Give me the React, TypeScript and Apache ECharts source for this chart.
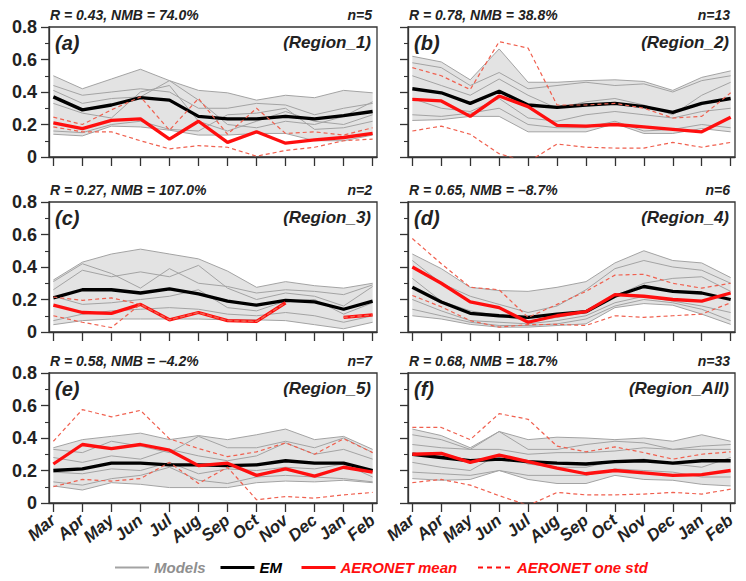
import React, { useEffect, useRef } from "react";
import * as echarts from "echarts";

const months = ["Mar", "Apr", "May", "Jun", "Jul", "Aug", "Sep", "Oct", "Nov", "Dec", "Jan", "Feb"];

// ---- Panel (a) Region_1
const bandHiA = [0.50, 0.42, 0.48, 0.54, 0.47, 0.41, 0.395, 0.35, 0.38, 0.365, 0.41, 0.395];
const bandLoA = [0.14, 0.13, 0.19, 0.185, 0.165, 0.135, 0.135, 0.145, 0.145, 0.10, 0.10, 0.135];
const modelsA = [
  [0.44, 0.38, 0.40, 0.42, 0.40, 0.30, 0.30, 0.33, 0.32, 0.26, 0.30, 0.33],
  [0.41, 0.33, 0.36, 0.37, 0.47, 0.35, 0.20, 0.18, 0.22, 0.20, 0.25, 0.34],
  [0.33, 0.27, 0.24, 0.40, 0.44, 0.22, 0.16, 0.22, 0.28, 0.22, 0.20, 0.26],
  [0.16, 0.15, 0.20, 0.22, 0.17, 0.16, 0.26, 0.27, 0.30, 0.17, 0.18, 0.22],
];
const emA = [0.37, 0.29, 0.32, 0.365, 0.35, 0.25, 0.235, 0.235, 0.25, 0.235, 0.255, 0.28];
const obsA = [0.21, 0.175, 0.225, 0.235, 0.11, 0.22, 0.09, 0.155, 0.085, 0.105, 0.12, 0.145];
const stdHiA = [0.245, 0.2, 0.29, 0.37, 0.165, 0.36, 0.14, 0.30, 0.145, 0.155, 0.135, 0.18];
const stdLoA = [0.185, 0.155, 0.155, 0.10, 0.05, 0.07, 0.06, 0.005, 0.04, 0.06, 0.10, 0.11];

// ---- Panel (b) Region_2
const bandHiB = [0.62, 0.585, 0.475, 0.665, 0.46, 0.46, 0.47, 0.475, 0.465, 0.41, 0.49, 0.53];
const bandLoB = [0.225, 0.23, 0.25, 0.25, 0.155, 0.155, 0.155, 0.205, 0.145, 0.145, 0.175, 0.155];
const modelsB = [
  [0.58, 0.55, 0.44, 0.52, 0.42, 0.44, 0.46, 0.44, 0.45, 0.40, 0.47, 0.50],
  [0.50, 0.44, 0.38, 0.48, 0.38, 0.30, 0.34, 0.36, 0.32, 0.26, 0.38, 0.46],
  [0.36, 0.30, 0.28, 0.36, 0.24, 0.22, 0.26, 0.28, 0.26, 0.24, 0.28, 0.30],
  [0.26, 0.25, 0.27, 0.30, 0.20, 0.18, 0.18, 0.22, 0.16, 0.17, 0.20, 0.18],
];
const emB = [0.42, 0.395, 0.33, 0.405, 0.32, 0.305, 0.32, 0.33, 0.31, 0.275, 0.33, 0.36];
const obsB = [0.355, 0.345, 0.25, 0.375, 0.31, 0.195, 0.19, 0.20, 0.185, 0.17, 0.155, 0.245];
const stdHiB = [0.55, 0.50, 0.415, 0.71, 0.67, 0.32, 0.32, 0.33, 0.30, 0.24, 0.25, 0.395];
const stdLoB = [0.16, 0.19, 0.14, 0.02, -0.03, 0.08, 0.06, 0.055, 0.055, 0.09, 0.06, 0.09];

// ---- Panel (c) Region_3
const bandHiC = [0.32, 0.43, 0.48, 0.51, 0.48, 0.45, 0.375, 0.275, 0.31, 0.285, 0.27, 0.30];
const bandLoC = [0.045, 0.07, 0.08, 0.08, 0.08, 0.08, 0.075, 0.075, 0.07, 0.045, 0.02, 0.06];
const modelsC = [
  [0.31, 0.42, 0.36, 0.27, 0.39, 0.30, 0.28, 0.24, 0.26, 0.25, 0.23, 0.29],
  [0.26, 0.38, 0.34, 0.37, 0.34, 0.41, 0.27, 0.20, 0.24, 0.22, 0.16, 0.28],
  [0.22, 0.17, 0.18, 0.20, 0.22, 0.26, 0.15, 0.13, 0.19, 0.20, 0.11, 0.18],
  [0.07, 0.11, 0.13, 0.14, 0.15, 0.14, 0.11, 0.10, 0.12, 0.10, 0.06, 0.10],
];
const emC = [0.21, 0.26, 0.26, 0.24, 0.265, 0.235, 0.19, 0.165, 0.195, 0.185, 0.14, 0.19];
const obsC = [0.165, 0.12, 0.115, 0.17, 0.075, 0.12, 0.07, 0.065, 0.18, null, 0.09, 0.105];
const stdHiC = [0.215, 0.195, 0.21, 0.17, 0.075, 0.12, 0.07, 0.065, 0.18, null, 0.09, 0.105];
const stdLoC = [0.10, 0.06, 0.027, 0.17, 0.075, 0.12, 0.07, 0.065, 0.18, null, 0.09, 0.105];

// ---- Panel (d) Region_4
const bandHiD = [0.48, 0.39, 0.275, 0.255, 0.25, 0.275, 0.31, 0.425, 0.50, 0.44, 0.425, 0.335];
const bandLoD = [0.10, 0.08, 0.047, 0.03, 0.03, 0.04, 0.05, 0.15, 0.175, 0.165, 0.11, 0.047];
const modelsD = [
  [0.44, 0.30, 0.22, 0.17, 0.12, 0.16, 0.26, 0.39, 0.44, 0.40, 0.38, 0.30],
  [0.33, 0.19, 0.13, 0.10, 0.07, 0.09, 0.12, 0.22, 0.30, 0.33, 0.34, 0.25],
  [0.20, 0.13, 0.07, 0.06, 0.05, 0.07, 0.10, 0.18, 0.22, 0.19, 0.16, 0.12],
  [0.14, 0.10, 0.06, 0.04, 0.04, 0.05, 0.08, 0.16, 0.20, 0.18, 0.14, 0.07],
];
const emD = [0.275, 0.185, 0.115, 0.10, 0.09, 0.11, 0.125, 0.22, 0.28, 0.25, 0.24, 0.20];
const obsD = [0.40, 0.30, 0.185, 0.15, 0.06, 0.10, 0.125, 0.23, 0.22, 0.20, 0.19, 0.24];
const stdHiD = [0.575, 0.42, 0.275, 0.26, 0.09, 0.17, 0.25, 0.35, 0.355, 0.30, 0.27, 0.30];
const stdLoD = [0.225, 0.155, 0.07, 0.03, 0.045, 0.047, 0.04, 0.10, 0.09, 0.10, 0.11, 0.18];

// ---- Panel (e) Region_5
const bandHiE = [0.34, 0.39, 0.41, 0.43, 0.39, 0.415, 0.39, 0.42, 0.455, 0.39, 0.41, 0.33];
const bandLoE = [0.105, 0.08, 0.125, 0.115, 0.095, 0.095, 0.095, 0.125, 0.135, 0.13, 0.14, 0.125];
const modelsE = [
  [0.33, 0.31, 0.38, 0.35, 0.31, 0.41, 0.34, 0.34, 0.38, 0.34, 0.40, 0.31],
  [0.28, 0.25, 0.29, 0.27, 0.33, 0.29, 0.26, 0.29, 0.37, 0.30, 0.33, 0.27],
  [0.19, 0.18, 0.21, 0.20, 0.25, 0.18, 0.21, 0.20, 0.22, 0.21, 0.24, 0.16],
  [0.13, 0.11, 0.15, 0.17, 0.22, 0.14, 0.12, 0.16, 0.17, 0.16, 0.15, 0.13],
];
const emE = [0.20, 0.21, 0.245, 0.245, 0.235, 0.235, 0.23, 0.235, 0.26, 0.245, 0.245, 0.20];
const obsE = [0.24, 0.36, 0.335, 0.36, 0.325, 0.23, 0.245, 0.17, 0.21, 0.165, 0.22, 0.19];
const stdHiE = [0.38, 0.575, 0.53, 0.57, 0.395, 0.335, 0.285, 0.315, 0.37, 0.30, 0.395, 0.31];
const stdLoE = [0.10, 0.145, 0.135, 0.15, 0.25, 0.12, 0.22, 0.02, 0.04, 0.03, 0.05, 0.065];

// ---- Panel (f) Region_All
const bandHiF = [0.455, 0.415, 0.34, 0.44, 0.39, 0.405, 0.40, 0.39, 0.40, 0.38, 0.42, 0.38];
const bandLoF = [0.15, 0.14, 0.145, 0.20, 0.145, 0.12, 0.12, 0.17, 0.145, 0.14, 0.115, 0.105];
const modelsF = [
  [0.42, 0.39, 0.33, 0.44, 0.33, 0.33, 0.36, 0.38, 0.37, 0.33, 0.35, 0.36],
  [0.36, 0.34, 0.33, 0.33, 0.30, 0.31, 0.31, 0.32, 0.34, 0.33, 0.33, 0.33],
  [0.25, 0.22, 0.20, 0.30, 0.24, 0.22, 0.22, 0.26, 0.27, 0.24, 0.22, 0.28],
  [0.19, 0.18, 0.17, 0.20, 0.17, 0.17, 0.17, 0.21, 0.20, 0.19, 0.16, 0.16],
];
const emF = [0.30, 0.28, 0.26, 0.27, 0.255, 0.245, 0.24, 0.255, 0.26, 0.245, 0.26, 0.26];
const obsF = [0.30, 0.305, 0.25, 0.295, 0.255, 0.215, 0.18, 0.20, 0.185, 0.17, 0.175, 0.20];
const stdHiF = [0.465, 0.465, 0.39, 0.55, 0.515, 0.35, 0.315, 0.345, 0.31, 0.27, 0.30, 0.315];
const stdLoF = [0.125, 0.145, 0.11, 0.045, -0.015, 0.065, 0.05, 0.05, 0.055, 0.065, 0.055, 0.085];

const panelLetters = ["(a)", "(b)", "(c)", "(d)", "(e)", "(f)"];
const regionNames = ["(Region_1)", "(Region_2)", "(Region_3)", "(Region_4)", "(Region_5)", "(Region_All)"];
const statTexts = [
  "R = 0.43, NMB = 74.0%",
  "R = 0.78, NMB = 38.8%",
  "R = 0.27, NMB = 107.0%",
  "R = 0.65, NMB = \u20138.7%",
  "R = 0.58, NMB = \u20134.2%",
  "R = 0.68, NMB = 18.7%",
];
const stationCounts = ["n=5", "n=13", "n=2", "n=6", "n=7", "n=33"];

const panels = [
  { hi: bandHiA, lo: bandLoA, models: modelsA, em: emA, obs: obsA, sHi: stdHiA, sLo: stdLoA },
  { hi: bandHiB, lo: bandLoB, models: modelsB, em: emB, obs: obsB, sHi: stdHiB, sLo: stdLoB },
  { hi: bandHiC, lo: bandLoC, models: modelsC, em: emC, obs: obsC, sHi: stdHiC, sLo: stdLoC },
  { hi: bandHiD, lo: bandLoD, models: modelsD, em: emD, obs: obsD, sHi: stdHiD, sLo: stdLoD },
  { hi: bandHiE, lo: bandLoE, models: modelsE, em: emE, obs: obsE, sHi: stdHiE, sLo: stdLoE },
  { hi: bandHiF, lo: bandLoF, models: modelsF, em: emF, obs: obsF, sHi: stdHiF, sLo: stdLoF },
];

const FONT = "'Liberation Sans', Arial, Helvetica, sans-serif";
const W = 746;
const colLeft = [49, 408];
const colWidth = [328, 327];
const rowTop = [27, 202, 373];
const panelH = 130;
const FRAME = "#333333";
const MODEL_GRAY = "#a3a3a3";
const BAND_FILL = "#e3e3e3";
const RED = "#ff0f0f";
const STD_RED = "#f0604f";

const xy = (arr: (number | null)[]) => arr.map((v, k) => [k, v === null ? null : v]);

function buildOption() {
  const tickIdx = months.map((_, k) => k);
  const grid: any[] = [];
  const xAxis: any[] = [];
  const yAxis: any[] = [];
  const series: any[] = [];
  const title: any[] = [];

  panels.forEach((p, i) => {
    const col = i % 2;
    const row = Math.floor(i / 2);
    const left = colLeft[col];
    const width = colWidth[col];
    const top = rowTop[row];
    grid.push({
      left,
      top,
      width,
      height: panelH,
      show: true,
      borderColor: FRAME,
      borderWidth: 1.3,
      backgroundColor: "transparent",
      containLabel: false,
    });
    xAxis.push({
      type: "value",
      gridIndex: i,
      min: -0.15,
      max: 11.15,
      axisLine: { show: true, onZero: false, lineStyle: { color: FRAME, width: 1.3 } },
      axisTick: { show: true, customValues: tickIdx, length: 9, lineStyle: { color: FRAME, width: 1.3 } },
      axisLabel: {
        show: row === 2,
        customValues: tickIdx,
        formatter: (v: number) => months[Math.round(v)] ?? "",
        rotate: 40,
        margin: 15,
        fontSize: 17,
        fontWeight: "bold",
        fontStyle: "italic",
        color: "#222",
        fontFamily: FONT,
      },
      splitLine: { show: false },
    });
    yAxis.push({
      type: "value",
      gridIndex: i,
      min: 0,
      max: 0.8,
      interval: 0.2,
      axisLine: { show: true, onZero: false, lineStyle: { color: FRAME, width: 1.3 } },
      axisTick: { show: true, length: 8, lineStyle: { color: FRAME, width: 1.3 } },
      minorTick: { show: true, splitNumber: 2, length: 4, lineStyle: { color: FRAME, width: 1.1 } },
      axisLabel: {
        show: col === 0,
        formatter: (v: number) => (v === 0 ? "0" : v.toFixed(1)),
        margin: 12,
        fontSize: 18,
        fontWeight: "bold",
        color: "#222",
        fontFamily: FONT,
      },
      splitLine: { show: false },
      minorSplitLine: { show: false },
    });

    const base = { type: "line", xAxisIndex: i, yAxisIndex: i, symbol: "none", silent: true };

    // model range band (min..max) drawn as one polygon through the axes' scales
    const bandData = p.hi.map((h, k) => [k, p.lo[k], h]);
    series.push({
      type: "custom",
      name: "Models band",
      xAxisIndex: i,
      yAxisIndex: i,
      silent: true,
      z: 1,
      clip: true,
      data: bandData,
      renderItem: (params: any, api: any) => {
        if (params.dataIndex !== 0) return null;
        const upper = bandData.map((d) => api.coord([d[0], d[2]]));
        const lower = bandData.map((d) => api.coord([d[0], d[1]])).reverse();
        return {
          type: "polygon",
          shape: { points: upper.concat(lower) },
          style: { fill: BAND_FILL, stroke: "none" },
        };
      },
    });
    [p.lo, p.hi].forEach((edge) => {
      series.push({
        ...base,
        name: "Models",
        data: xy(edge),
        lineStyle: { color: MODEL_GRAY, width: 1 },
        itemStyle: { color: MODEL_GRAY },
        z: 2,
      });
    });
    p.models.forEach((m) => {
      series.push({
        ...base,
        name: "Models",
        data: xy(m),
        lineStyle: { color: MODEL_GRAY, width: 1 },
        itemStyle: { color: MODEL_GRAY },
        z: 2,
      });
    });
    series.push({
      ...base,
      name: "EM",
      data: xy(p.em),
      lineStyle: { color: "#000", width: 3.3 },
      itemStyle: { color: "#000" },
      z: 3,
    });
    series.push({
      ...base,
      name: "AERONET mean",
      data: xy(p.obs),
      lineStyle: { color: RED, width: 3.3 },
      itemStyle: { color: RED },
      z: 4,
    });
    [p.sHi, p.sLo].forEach((s) => {
      series.push({
        ...base,
        name: "AERONET one std",
        data: xy(s),
        lineStyle: { color: STD_RED, width: 1.2, type: [4, 3] },
        itemStyle: { color: RED },
        z: 5,
      });
    });

    const txt = (size: number) => ({
      fontSize: size,
      fontWeight: "bold",
      fontStyle: "italic",
      color: "#222",
      fontFamily: FONT,
    });
    title.push({ text: statTexts[i], left: left + 1, top: top - 19, padding: 0, textStyle: txt(14) });
    title.push({ text: stationCounts[i], right: W - (left + width - 5), top: top - 19, padding: 0, textStyle: txt(14) });
    title.push({ text: panelLetters[i], left: left + 6, top: top + 6, padding: 0, textStyle: txt(20) });
    title.push({ text: regionNames[i], right: W - (left + width - 6), top: top + 7, padding: 0, textStyle: txt(17) });
  });

  const legendText = (color: string) => ({
    fontSize: 15,
    fontWeight: "bold",
    fontStyle: "italic",
    color,
    fontFamily: FONT,
  });
  const legendBase = {
    top: 560,
    itemWidth: 34,
    itemHeight: 14,
    selectedMode: false,
    padding: 0,
    itemStyle: { opacity: 0 },
  };
  const legend = [
    {
      ...legendBase,
      left: 114,
      data: [{ name: "Models", itemStyle: { opacity: 0 }, lineStyle: { color: MODEL_GRAY, width: 2 } }],
      textStyle: legendText("#8f8f8f"),
    },
    {
      ...legendBase,
      left: 219,
      data: [{ name: "EM", itemStyle: { opacity: 0 }, lineStyle: { color: "#000", width: 3 } }],
      textStyle: legendText("#000"),
    },
    {
      ...legendBase,
      left: 300,
      data: [{ name: "AERONET mean", itemStyle: { opacity: 0 }, lineStyle: { color: RED, width: 3 } }],
      textStyle: legendText(RED),
    },
    {
      ...legendBase,
      left: 477,
      data: [
        { name: "AERONET one std", itemStyle: { opacity: 0 }, lineStyle: { color: RED, width: 2, type: [5, 4] } },
      ],
      textStyle: legendText(RED),
    },
  ];

  return {
    animation: false,
    backgroundColor: "#ffffff",
    title,
    legend,
    grid,
    xAxis,
    yAxis,
    series,
  };
}

export default function App() {
  const ref = useRef<HTMLDivElement>(null);
  useEffect(() => {
    if (!ref.current) return;
    const chart = echarts.init(ref.current, undefined, { renderer: "svg" });
    chart.setOption(buildOption() as any);
    return () => chart.dispose();
  }, []);
  return (
    <div
      ref={ref}
      style={{ position: "fixed", left: 0, top: 0, width: 746, height: 581, background: "#fff" }}
    />
  );
}
